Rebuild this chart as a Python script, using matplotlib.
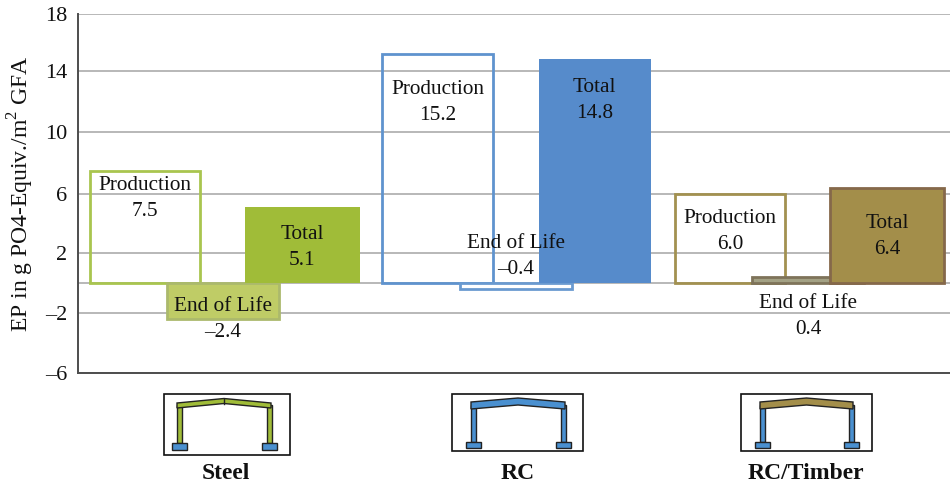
import matplotlib
matplotlib.use('Agg')
import numpy as np
import matplotlib.pyplot as plt
from matplotlib.patches import Polygon, Rectangle

plt.rcParams['font.family'] = ['Liberation Serif', 'DejaVu Serif']
plt.rcParams['mathtext.fontset'] = 'custom'
plt.rcParams['mathtext.rm'] = 'Liberation Serif'

categories = ['Steel', 'RC', 'RC/Timber']
stages = ['Production', 'End of Life', 'Total']
production = [7.5, 15.2, 6.0]
end_of_life = [-2.4, -0.4, 0.4]
total = [5.1, 14.8, 6.4]
y_ticks = [-6, -2, 2, 6, 10, 14, 18]

# where the text sits on the y axis, same order as the values
prod_text_y = [5.69, 11.91, 3.46]
eol_text_y = [-2.44, 1.73, -2.24]
total_text_y = [2.37, 12.05, 3.12]

prod_edge = ['#A9C54F', '#5F93CE', '#A29150']
eol_fill = ['#BFCC66', '#FFFFFF', '#A3A184']
eol_edge = ['#ABB96C', '#6A9AD0', '#7E735A']
total_fill = ['#A0BC38', '#568BCB', '#A38E4A']
total_edge = ['none', 'none', '#85684A']
frame_col = ['#A0BC38', '#4A90D0', '#4A90D0']
roof_col = ['#A0BC38', '#4A90D0', '#A38E4A']

# the printed axis is not quite even, gridlines are a bit closer at the top
scale_vals = [-6, -2, 0, 2, 6, 10, 14, 18]
scale_pos = [0, 60, 90.5, 120, 179, 241, 302.3, 359]


def forward(v):
    return np.interp(v, scale_vals, scale_pos)


def inverse(p):
    return np.interp(p, scale_pos, scale_vals)


fig = plt.figure(figsize=(9.5, 4.86), dpi=100)
ax = fig.add_axes([78 / 950, 1 - 373 / 486, 872 / 950, 359 / 486])
ax.set_yscale('function', functions=(forward, inverse))

x = np.arange(3)
off = 0.27
prod_off = 0.267
w = 0.383
total_w = [0.393, 0.383, 0.39]

ax.bar(x - prod_off, production, 0.378, facecolor='none', edgecolor=prod_edge, linewidth=2, zorder=3)
ax.bar(x, end_of_life, w, color=eol_fill, edgecolor=eol_edge, linewidth=2, zorder=4)
ax.bar(x + off, total, total_w, color=total_fill, edgecolor=total_edge, linewidth=2, zorder=5)

for i in range(3):
    ax.text(x[i] - prod_off, prod_text_y[i], f'{stages[0]}\n{production[i]:.1f}', ha='center', va='center',
            fontsize=15.3, linespacing=1.5, color='#111111', zorder=6)
    ax.text(x[i], eol_text_y[i], f'{stages[1]}\n{end_of_life[i]:.1f}'.replace('-', '\u2013'), ha='center', va='center',
            fontsize=15.3, linespacing=1.5, color='#111111', zorder=6)
    ax.text(x[i] + off, total_text_y[i], f'{stages[2]}\n{total[i]:.1f}', ha='center', va='center',
            fontsize=15.3, linespacing=1.5, color='#111111', zorder=6)

ax.set_xlim(-0.496, 2.485)
ax.set_ylim(-6, 18)
ax.set_yticks(y_ticks)
ax.set_yticklabels([str(t).replace('-', '\u2013') for t in y_ticks], fontsize=16)
ax.minorticks_off()
ax.set_xticks([])
ax.tick_params(axis='y', length=0, pad=8, colors='#111111')
ax.grid(axis='y', color='#ABABAB', linewidth=1.2, zorder=1)
ax.set_axisbelow(True)
ax.axhline(0, color='#ABABAB', linewidth=1.2, zorder=1)
ax.spines['top'].set_visible(False)
ax.spines['right'].set_visible(False)
ax.spines['left'].set_color('#4D4D4D')
ax.spines['bottom'].set_color('#4D4D4D')
ax.spines['left'].set_linewidth(1.4)
ax.spines['bottom'].set_linewidth(1.4)
ax.set_ylabel('EP in g PO4-Equiv./m$^{2}$ GFA', fontsize=17, color='#111111', va='center')
ax.yaxis.set_label_coords((21 - 78) / 872, (373 - 194) / 359)

# little frame drawings below the chart, in figure pixels
over = fig.add_axes([0, 0, 1, 1])
over.set_xlim(0, 950)
over.set_ylim(486, 0)
over.axis('off')
over.patch.set_alpha(0)


def frame_icon(left, width, height, mid, span, i, thick):
    over.add_patch(Rectangle((left, 394), width, height, fc='white', ec='#111111', lw=1.2))
    foot_top = 442 if thick else 443
    foot_h = 6 if thick else 7
    for side in (-1, 1):
        cx = mid + side * span
        over.add_patch(Rectangle((cx - 2.5, 405), 5, foot_top - 405, fc=frame_col[i], ec='#222222', lw=1))
        over.add_patch(Rectangle((cx - 7.5, foot_top), 15, foot_h, fc='#4A90D0', ec='#222222', lw=1, zorder=3))
    if thick:
        pts = [(mid - span - 2, 402), (mid, 398), (mid + span + 2, 402),
               (mid + span + 2, 409), (mid, 405), (mid - span - 2, 409)]
    else:
        pts = [(mid - span - 2, 403), (mid, 398.5), (mid + span + 2, 403),
               (mid + span + 2, 408), (mid, 403.5), (mid - span - 2, 408)]
    over.add_patch(Polygon(pts, closed=True, fc=roof_col[i], ec='#222222', lw=1, zorder=3))
    if not thick:
        over.plot([mid, mid], [398.5, 403.5], color='#222222', lw=1, zorder=4)


frame_icon(163.5, 126.5, 61, 224, 45, 0, False)
frame_icon(452, 131, 57, 518, 45, 1, True)
frame_icon(741, 131, 57, 806.5, 44.5, 2, True)

name_x = [226, 518, 806]
for i in range(3):
    over.text(name_x[i], 473, categories[i], ha='center', va='center', fontsize=17, fontweight='bold', color='#111111')

fig.savefig('out.png', dpi=100)
